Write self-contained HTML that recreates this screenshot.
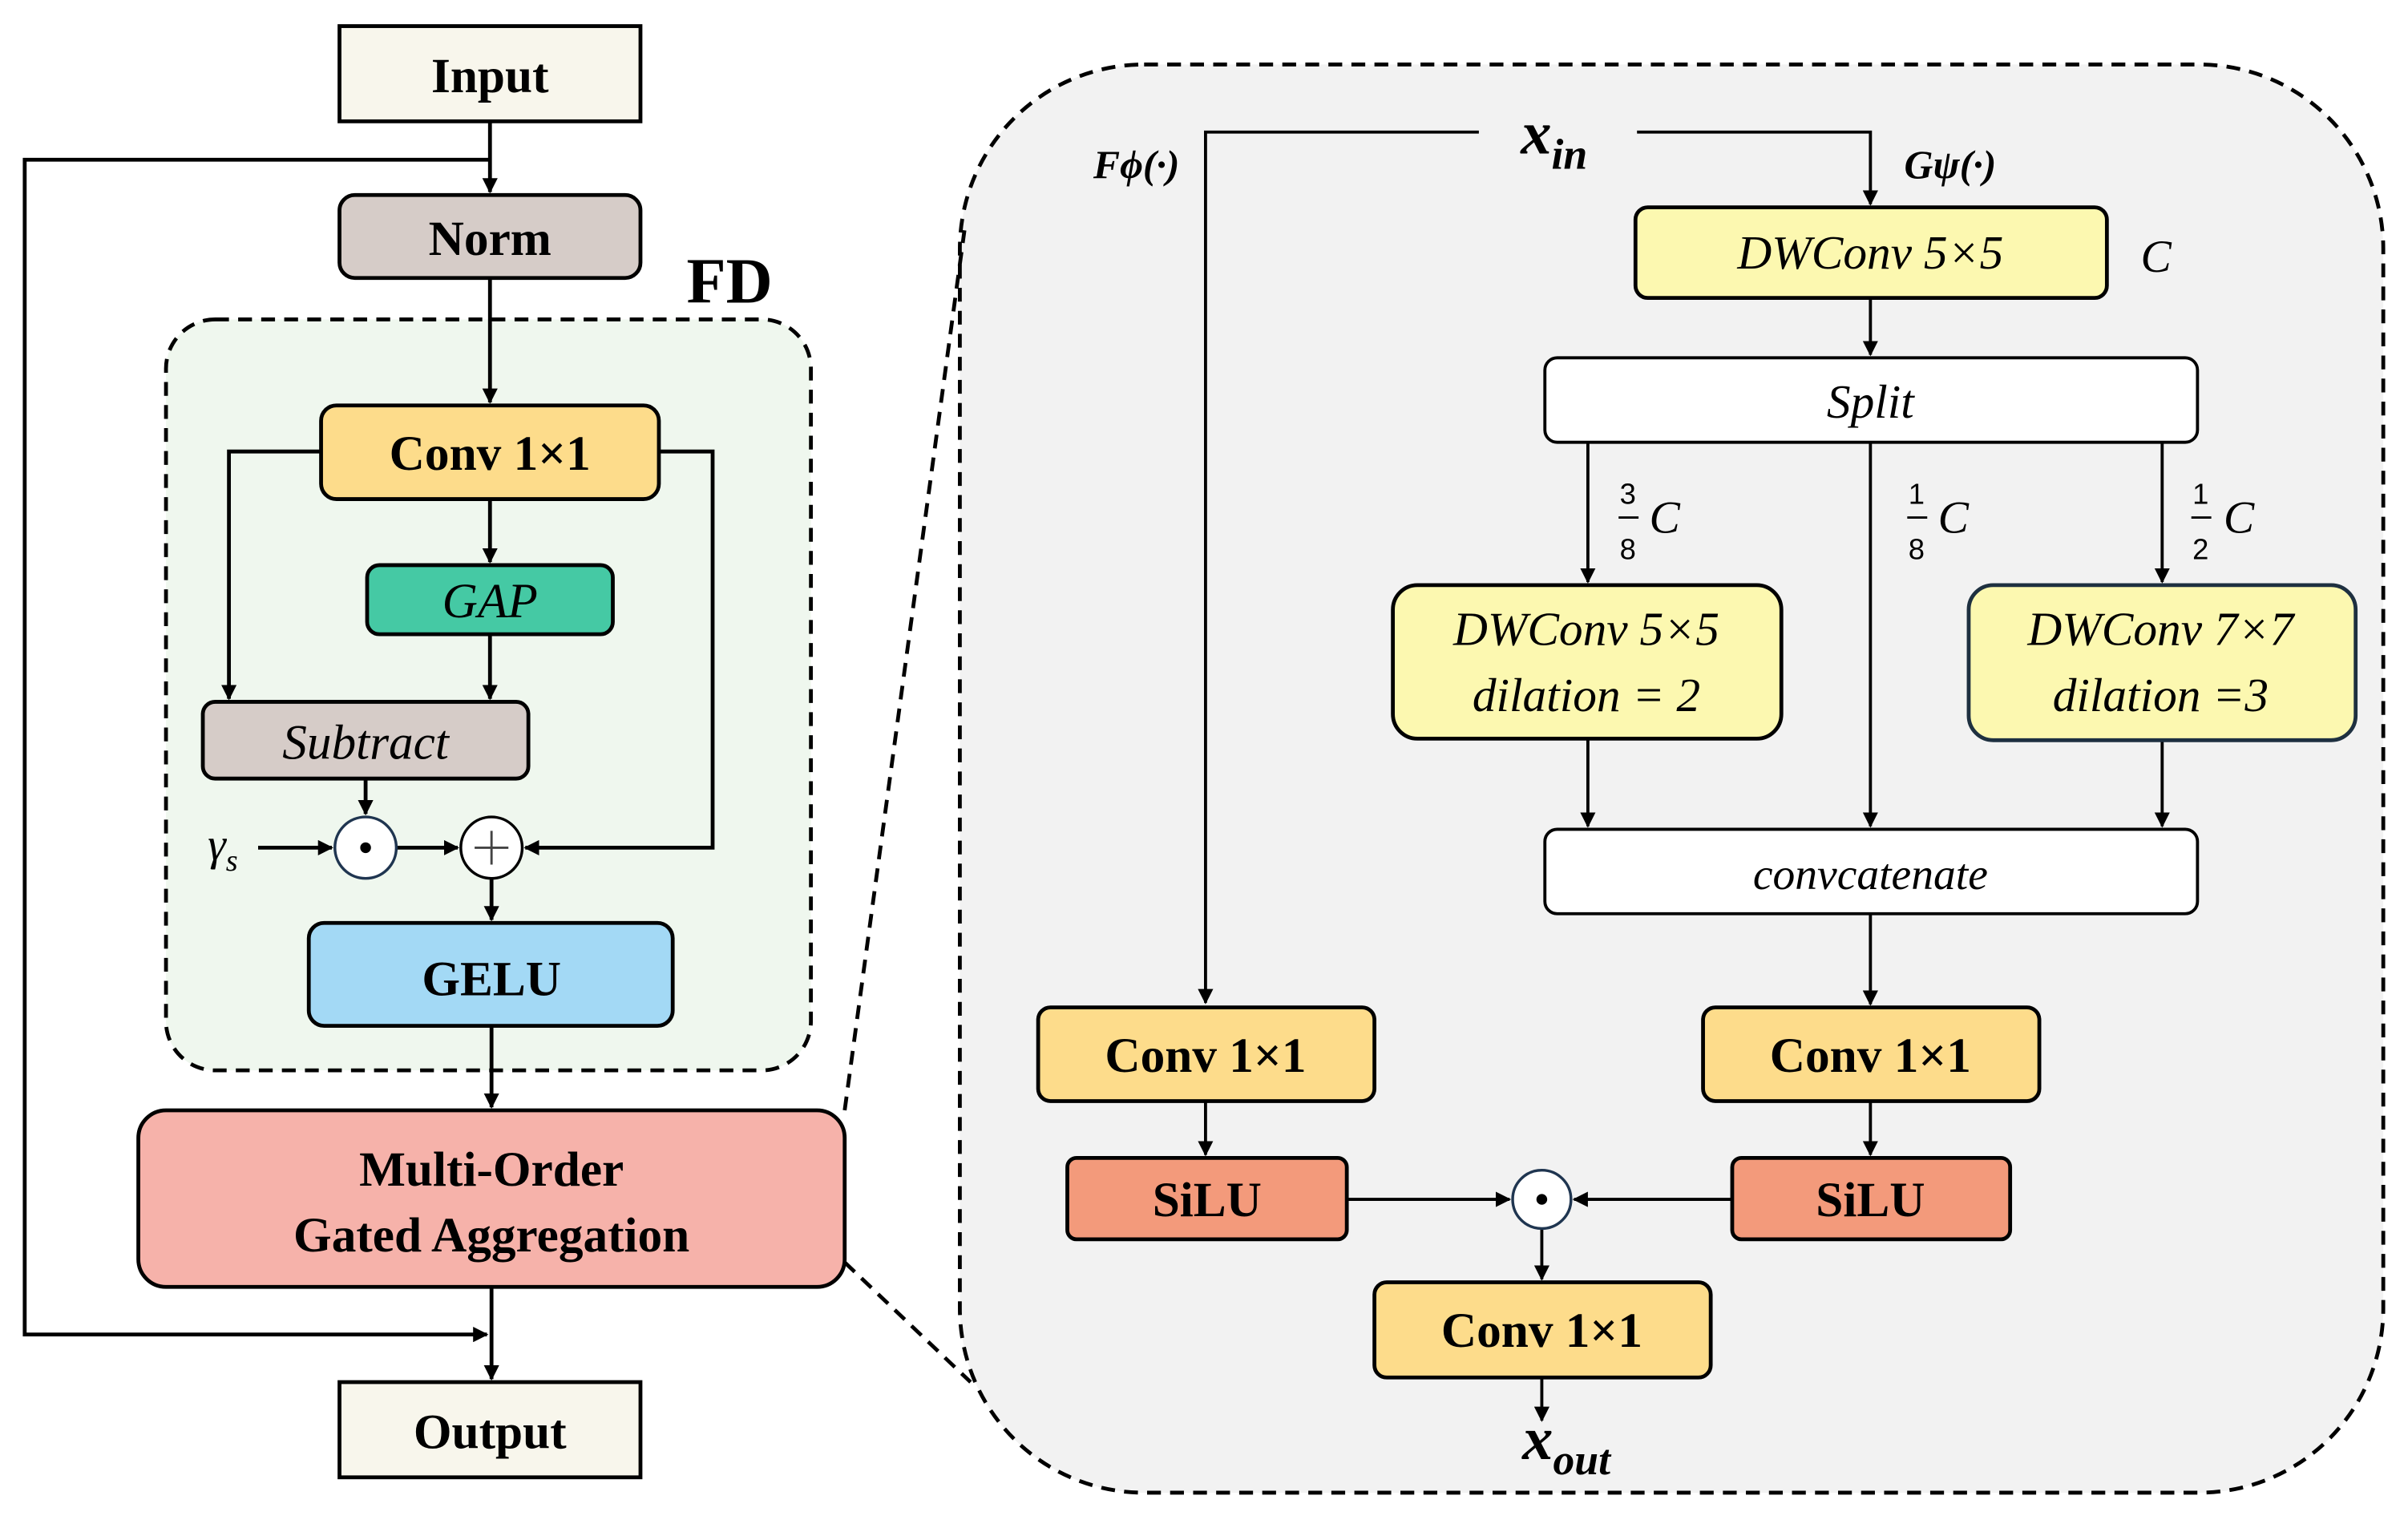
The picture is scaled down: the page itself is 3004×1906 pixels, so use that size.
<!DOCTYPE html>
<html><head><meta charset="utf-8"><style>html,body{margin:0;padding:0;background:#fff}svg{display:block}</style></head>
<body>
<svg width="3004" height="1906" viewBox="0 0 1568 995" xmlns="http://www.w3.org/2000/svg" font-family="'Liberation Serif', serif">
<defs><marker id="a" markerWidth="10" markerHeight="10" refX="9" refY="5" orient="auto" markerUnits="userSpaceOnUse"><path d="M0,0 L10,5 L0,10 z" fill="#000"/></marker></defs>
<g stroke="#000" stroke-width="2.5" fill="none">
<rect x="108" y="208" width="420" height="489" rx="32" fill="#eff7ee" stroke-dasharray="9,6"/>
<line x1="319" y1="79" x2="319" y2="125" marker-end="url(#a)"/>
<polyline points="319,104 16,104 16,869 317,869" marker-end="url(#a)"/>
<line x1="319" y1="181" x2="319" y2="262" marker-end="url(#a)"/>
<line x1="319" y1="325" x2="319" y2="366" marker-end="url(#a)"/>
<line x1="319" y1="413" x2="319" y2="455" marker-end="url(#a)"/>
<polyline points="209,294 149,294 149,455" marker-end="url(#a)"/>
<polyline points="429,294 464,294 464,552 342,552" marker-end="url(#a)"/>
<line x1="238" y1="507" x2="238" y2="530" marker-end="url(#a)"/>
<line x1="168" y1="552" x2="216" y2="552" marker-end="url(#a)"/>
<line x1="258" y1="552" x2="298" y2="552" marker-end="url(#a)"/>
<line x1="320" y1="572" x2="320" y2="599" marker-end="url(#a)"/>
<line x1="320" y1="668" x2="320" y2="721" marker-end="url(#a)"/>
<line x1="320" y1="838" x2="320" y2="898" marker-end="url(#a)"/>
<rect x="625" y="42" width="927" height="930" rx="120" fill="#f2f2f2" stroke-dasharray="9,6"/>
<line x1="550" y1="723" x2="628" y2="150" stroke-dasharray="9,6"/>
<line x1="550" y1="822" x2="632" y2="900" stroke-dasharray="9,6"/>
<polyline points="963,86 785,86 785,653" marker-end="url(#a)" stroke-width="2"/>
<polyline points="1066,86 1218,86 1218,133" marker-end="url(#a)" stroke-width="2"/>
<line x1="1218" y1="194" x2="1218" y2="231" marker-end="url(#a)" stroke-width="2"/>
<line x1="1034" y1="288" x2="1034" y2="379" marker-end="url(#a)" stroke-width="2"/>
<line x1="1408" y1="288" x2="1408" y2="379" marker-end="url(#a)" stroke-width="2"/>
<line x1="1218" y1="288" x2="1218" y2="538" marker-end="url(#a)" stroke-width="2"/>
<line x1="1034" y1="481" x2="1034" y2="538" marker-end="url(#a)" stroke-width="2"/>
<line x1="1408" y1="482" x2="1408" y2="538" marker-end="url(#a)" stroke-width="2"/>
<line x1="1218" y1="595" x2="1218" y2="654" marker-end="url(#a)" stroke-width="2"/>
<line x1="785" y1="717" x2="785" y2="752" marker-end="url(#a)" stroke-width="2"/>
<line x1="1218" y1="717" x2="1218" y2="752" marker-end="url(#a)" stroke-width="2"/>
<line x1="877" y1="781" x2="983" y2="781" marker-end="url(#a)" stroke-width="2"/>
<line x1="1128" y1="781" x2="1025" y2="781" marker-end="url(#a)" stroke-width="2"/>
<line x1="1004" y1="800" x2="1004" y2="833" marker-end="url(#a)" stroke-width="2"/>
<line x1="1004" y1="897" x2="1004" y2="925" marker-end="url(#a)" stroke-width="2"/>
<rect x="221" y="17" width="196" height="62" fill="#f8f6ec"/>
<rect x="221" y="127" width="196" height="54" rx="10" fill="#d6ccc8"/>
<rect x="209" y="264" width="220" height="61" rx="10" fill="#fddc8b"/>
<rect x="239" y="368" width="160" height="45" rx="8" fill="#45c9a4"/>
<rect x="132" y="457" width="212" height="50" rx="8" fill="#d6ccc8"/>
<circle cx="238" cy="552" r="20" fill="#fff" stroke="#1f3550" stroke-width="1.8"/>
<circle cx="320" cy="552" r="20" fill="#fff" stroke-width="1.8"/>
<rect x="201" y="601" width="237" height="67" rx="10" fill="#a3d9f5"/>
<rect x="90" y="723" width="460" height="115" rx="18" fill="#f6b2aa"/>
<rect x="221" y="900" width="196" height="62" fill="#f8f6ec"/>
<rect x="1065" y="135" width="307" height="59" rx="8" fill="#fcf8b0"/>
<rect x="1006" y="233" width="425" height="55" rx="8" fill="#fff" stroke-width="2"/>
<rect x="907" y="381" width="253" height="100" rx="16" fill="#fcf8b0"/>
<rect x="1282" y="381" width="252" height="101" rx="16" fill="#fcf8b0" stroke="#1e3040"/>
<rect x="1006" y="540" width="425" height="55" rx="8" fill="#fff" stroke-width="2"/>
<rect x="676" y="656" width="219" height="61" rx="8" fill="#fddc8b"/>
<rect x="1109" y="656" width="219" height="61" rx="8" fill="#fddc8b"/>
<rect x="695" y="754" width="182" height="53" rx="6" fill="#f39a7b"/>
<rect x="1128" y="754" width="181" height="53" rx="6" fill="#f39a7b"/>
<circle cx="1004" cy="781" r="19" fill="#fff" stroke="#1f3550" stroke-width="1.8"/>
<rect x="895" y="835" width="219" height="62" rx="8" fill="#fddc8b"/>
</g>
<circle cx="238" cy="552" r="3.5" fill="#000"/>
<circle cx="1004" cy="781" r="3.5" fill="#000"/>
<path d="M320,541 V563 M309,552 H331" stroke="#444" stroke-width="1.5"/>
<g font-weight="bold" font-size="32" text-anchor="middle" fill="#000">
<text x="319" y="60">Input</text>
<text x="319" y="166">Norm</text>
<text x="475" y="197" font-size="42">FD</text>
<text x="319" y="306">Conv 1×1</text>
<text x="320" y="648">GELU</text>
<text x="320" y="772">Multi-Order</text>
<text x="320" y="815">Gated Aggregation</text>
<text x="319" y="943">Output</text>
<text x="785" y="698">Conv 1×1</text>
<text x="1218" y="698">Conv 1×1</text>
<text x="786" y="792">SiLU</text>
<text x="1218" y="792">SiLU</text>
<text x="1004" y="877">Conv 1×1</text>
<text x="1012" y="100" font-size="40" font-style="italic">x<tspan font-size="28" dy="10">in</tspan></text>
<text x="1020" y="950" font-size="40" font-style="italic">x<tspan font-size="28" dy="10">out</tspan></text>
<text x="740" y="116" font-size="26" font-style="italic">Fϕ(·)</text>
<text x="1270" y="116" font-size="26" font-style="italic">Gψ(·)</text>
</g>
<g font-style="italic" font-size="32" text-anchor="middle" fill="#000">
<text x="319" y="402">GAP</text>
<text x="238" y="494">Subtract</text>
<text x="145" y="560" font-size="30">γ<tspan font-size="20" dy="7">s</tspan></text>
<text x="1218" y="175" font-size="31">DWConv 5×5</text>
<text x="1404" y="177" font-size="30">C</text>
<text x="1218" y="272" font-size="31">Split</text>
<text x="1033" y="420" font-size="31">DWConv 5×5</text>
<text x="1033" y="463" font-size="31">dilation = 2</text>
<text x="1407" y="420" font-size="31">DWConv 7×7</text>
<text x="1407" y="463" font-size="31">dilation =3</text>
<text x="1218" y="579" font-size="29">convcatenate</text>
<text x="1084" y="347" font-size="30">C</text>
<text x="1272" y="347" font-size="30">C</text>
<text x="1458" y="347" font-size="30">C</text>
</g>
<g font-size="19" text-anchor="middle" fill="#000" font-family="'Liberation Sans', sans-serif">
<text x="1060" y="328">3</text><text x="1060" y="364">8</text>
<text x="1248" y="328">1</text><text x="1248" y="364">8</text>
<text x="1433" y="328">1</text><text x="1433" y="364">2</text>
</g>
<path d="M1054,337 H1067 M1242,337 H1255 M1427,337 H1440" stroke="#000" stroke-width="1.5"/>
</svg>
</body></html>
